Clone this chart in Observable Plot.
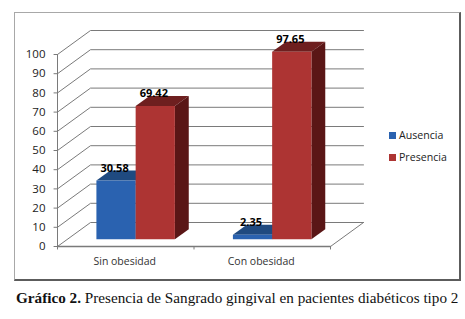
<!DOCTYPE html>
<html><head><meta charset="utf-8">
<script src="https://cdn.jsdelivr.net/npm/d3@7"></script>
<script src="https://cdn.jsdelivr.net/npm/@observablehq/plot@0.6"></script>
<style>
html,body{margin:0;padding:0;background:#fff;width:465px;height:319px;overflow:hidden}
#frame{position:absolute;left:14px;top:12px;width:444px;height:266px;border-top:1px solid #a8a8a8;border-left:1px solid #a8a8a8;border-right:2px solid #5c5c5c;border-bottom:2px solid #5c5c5c;box-sizing:content-box}
#chart{position:absolute;left:0;top:0}
.lg{position:absolute;font:10.6px "Open Sans",sans-serif;color:#222;line-height:12px}
.sw{position:absolute;width:7px;height:7px}
#cap{position:absolute;left:16px;top:289px;font:15.2px "Liberation Serif",serif;color:#111;white-space:nowrap}
</style></head><body>
<div id="frame"></div>
<div id="chart"></div>
<div class="sw" style="left:389px;top:132px;background:#2a62b0"></div><div class="lg" style="left:399px;top:129px">Ausencia</div>
<div class="sw" style="left:389px;top:154px;background:#ad3433"></div><div class="lg" style="left:399px;top:151px">Presencia</div>
<div id="cap"><b>Gráfico 2.</b> Presencia de Sangrado gingival en pacientes diabéticos tipo 2</div>
<script>
const categories = ["Sin obesidad", "Con obesidad"];
const ausencia = [30.58, 2.35];
const presencia = [69.42, 97.65];
const labelsA = ["30.58", "2.35"];
const labelsP = ["69.42", "97.65"];
const yTicks = [0,10,20,30,40,50,60,70,80,90,100];

// oblique projection of the depth axis, in data units of the x and y scales
const depthX = 0.2418, depthY = 12.5;
const P = (x, y, d = 0) => ({x: x + d * depthX, y: y + d * depthY});
const barW = 0.2875, gap = 0.2125, d0 = 0.3, d1 = 0.72;
const gridColor = "#7a7a7a";

const poly = (pts, fill) => Plot.line(pts, {x: "x", y: "y", fill, stroke: "none", curve: "linear"});
const path = (pts, w = 1) => Plot.line(pts, {x: "x", y: "y", stroke: gridColor, strokeWidth: w, curve: "linear"});

function bar(i, slot, v, front, top, side) {
  const a = i + gap + slot * barW, b = a + barW;
  return [
    poly([P(a, v, d0), P(b, v, d0), P(b, v, d1), P(a, v, d1)], top),
    poly([P(b, 0, d0), P(b, v, d0), P(b, v, d1), P(b, 0, d1)], side),
    poly([P(a, 0, d0), P(b, 0, d0), P(b, v, d0), P(a, v, d0)], front)
  ];
}

const marks = [];
for (const t of yTicks) {
  marks.push(path([P(0, t), P(0, t, 1), P(2, t, 1)]));
}
marks.push(path([P(2, 0), P(2, 0, 1)]));
marks.push(path([P(0, 0), P(0, 100)]));
marks.push(path([P(0, 0), P(2, 0)], 1.3));
marks.push(Plot.ruleY(yTicks, {y: d => d, x1: -0.025, x2: 0, stroke: gridColor}));
marks.push(Plot.ruleX([0, 1, 2], {x: d => d, y1: 0, y2: -1.8, stroke: gridColor}));
marks.push(Plot.text(yTicks, {x: 0, y: d => d, text: d => String(d), textAnchor: "end", dx: -12,
  fontFamily: "Open Sans", fontSize: 11.5, fill: "#222"}));
categories.forEach((c, i) => {
  marks.push(...bar(i, 0, ausencia[i], "#2a62b0", "#1f4a80", "#1b3f70"));
  marks.push(...bar(i, 1, presencia[i], "#ad3433", "#6e1f1f", "#5a1616"));
});
marks.push(Plot.text(categories, {x: (d, i) => i + 0.5, y: 0, text: d => d, dy: 15, dx: -1,
  fontFamily: "Open Sans", fontSize: 10.5, fill: "#333"}));
const lab = (vals, labels, slot) => Plot.text(vals, {
  x: (d, i) => i + gap + (slot + 0.5) * barW + d0 * depthX, y: d => d + d1 * depthY, text: (d, i) => labels[i], dy: -2, dx: -1.5,
  fontFamily: "Open Sans", fontWeight: "bold", fontSize: 11, fill: "#000"});
marks.push(lab(ausencia, labelsA, 0), lab(presencia, labelsP, 1));

document.getElementById("chart").append(Plot.plot({
  width: 465, height: 285,
  marginTop: 0, marginLeft: 0, marginRight: 0, marginBottom: 0,
  x: {domain: [0, 2], range: [57, 330], axis: null},
  y: {domain: [0, 100], range: [246, 54], axis: null},
  style: {background: "transparent"},
  marks
}));
</script>
</body></html>
